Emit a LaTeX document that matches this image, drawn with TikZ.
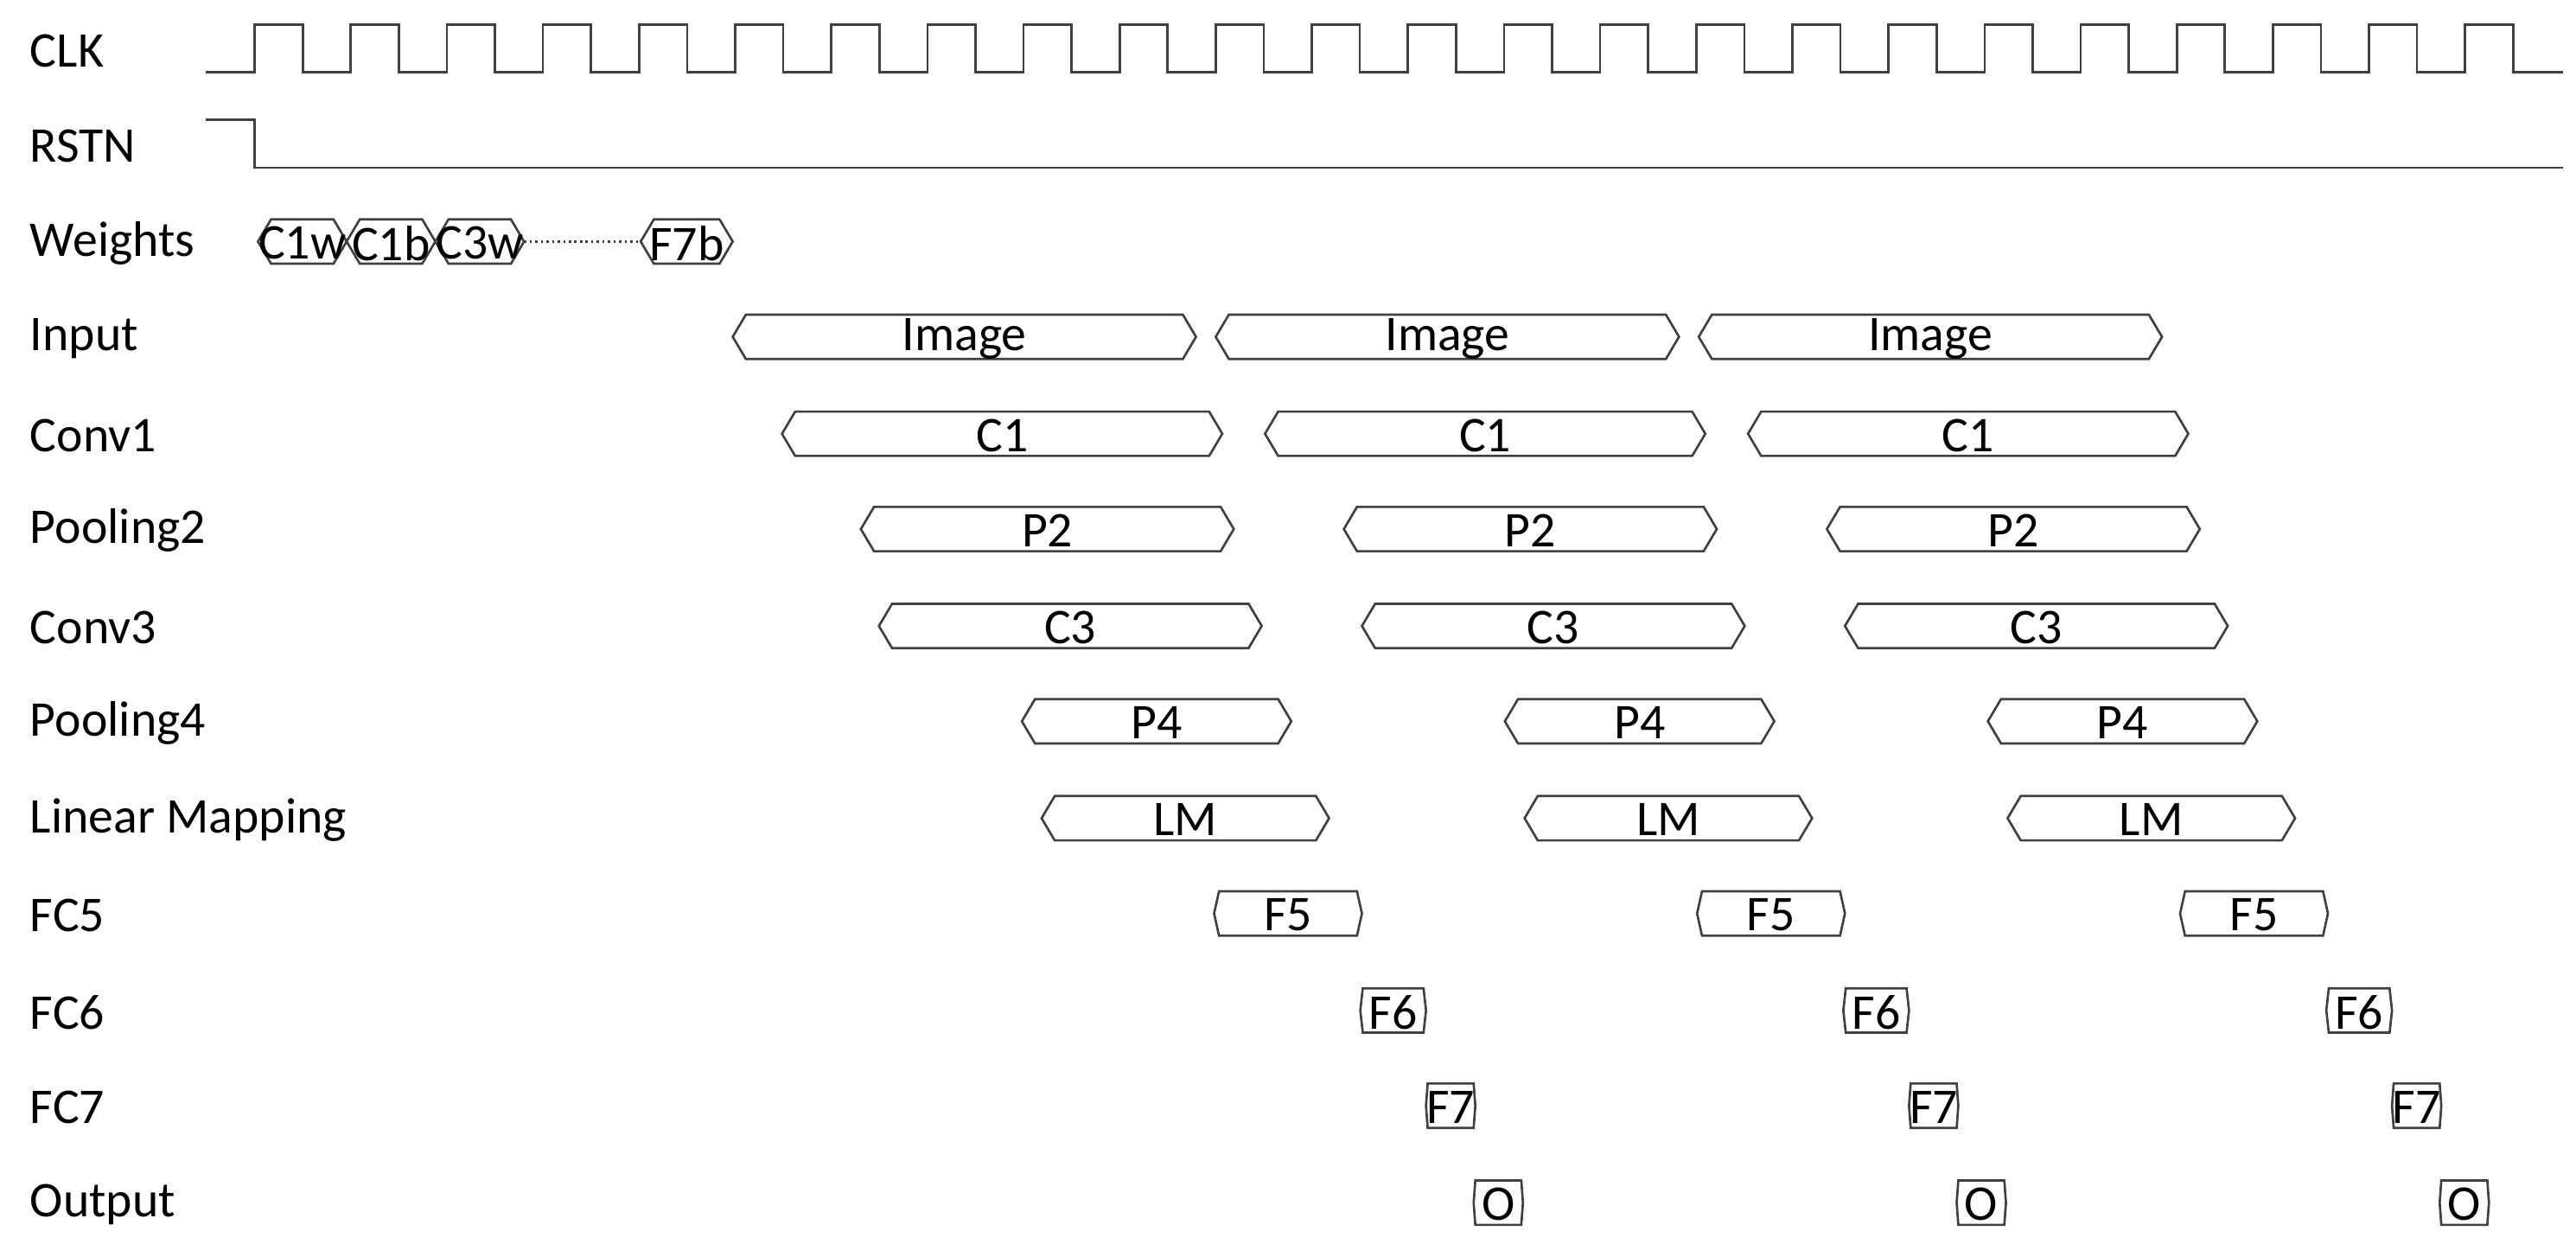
\documentclass[tikz,border=0pt]{standalone}
\usepackage{fontspec}
\setmainfont{Carlito}
\definecolor{ln}{HTML}{404040}
\tikzset{sig/.style={draw=ln,line width=0.7pt},lbl/.style={anchor=west,inner sep=0pt,font=\fontsize{15.2}{15}\selectfont},
txt/.style={inner sep=0pt,font=\fontsize{15.2}{15}\selectfont}}
\newcommand{\busbox}[6]{%
\draw[sig] (#2,#4) -- (#2+#5,#4-13.5) -- (#3-#5,#4-13.5) -- (#3,#4) -- (#3-#5,#4+13.5) -- (#2+#5,#4+13.5) -- cycle;
\node[txt] (#1) at ({(#2+#3)/2},#4+1) {#6};}
\begin{document}
\begin{tikzpicture}[x=0.5pt,y=-0.5pt]
\useasboundingbox (0,0) rectangle (1568,757);
\foreach \t/\y/\n in {CLK/30/lclk,RSTN/88/lrst,Weights/147/lw,Input/205/li,Conv1/264/lc1,Pooling2/322/lp2,Conv3/381/lc3,Pooling4/439/lp4,Linear Mapping/498/llm,FC5/556/lf5,FC6/615/lf6,FC7/673/lf7,Output/732/lo}
  \node[lbl] (\n) at (18,\y+1) {\t};
% CLK
\draw[sig] (125,44) \foreach \i in {0,...,23} { -- (155+58.5*\i,44) -- (155+58.5*\i,15) -- (184.25+58.5*\i,15) -- (184.25+58.5*\i,44) } -- (1560,44);
% RSTN
\draw[sig] (125,73) -- (155,73) -- (155,102) -- (1560,102);
% Weights
\busbox{w1}{157}{211}{147}{8}{C1w}
\busbox{w2}{211}{265}{147}{8}{C1b}
\busbox{w3}{265}{319}{147}{8}{C3w}
\busbox{w4}{390}{446}{147}{8}{F7b}
\draw[ln,densely dotted,line width=0.7pt] (319,147) -- (390,147);
% rows
\foreach \k/\o in {1/0,2/294,3/588}{
\busbox{im\k}{446+\o}{728+\o}{205}{8}{Image}
\busbox{ca\k}{476+\o}{744+\o}{264}{8}{C1}
\busbox{pa\k}{524+\o}{751+\o}{322}{8}{P2}
\busbox{cb\k}{535+\o}{768+\o}{381}{8}{C3}
\busbox{pb\k}{622+\o}{786+\o}{439}{8}{P4}
\busbox{lm\k}{634+\o}{809+\o}{498}{8}{LM}
\busbox{fa\k}{739+\o}{829+\o}{556}{3}{F5}
\busbox{fb\k}{828+\o}{868+\o}{615}{1.5}{F6}
\busbox{fc\k}{868+\o}{898+\o}{673}{1}{F7}
\busbox{ou\k}{897+\o}{927+\o}{732}{1}{O}
}
\end{tikzpicture}
\end{document}
